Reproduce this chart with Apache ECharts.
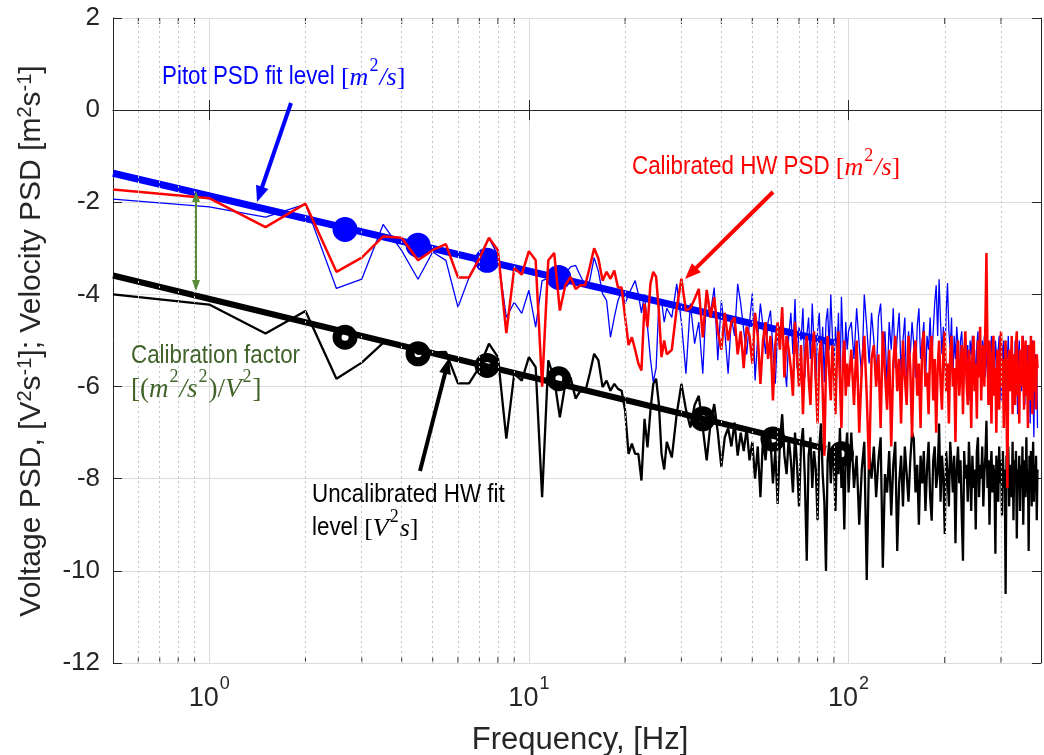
<!DOCTYPE html>
<html><head><meta charset="utf-8">
<script src="https://cdn.jsdelivr.net/npm/echarts@6/dist/echarts.min.js"></script>
<style>html,body{margin:0;padding:0;background:#fff}#c{width:1044px;height:755px}</style>
</head><body><div id="c"></div><script>
// ---------------- DATA ----------------
const freqLo = [0.5,1,1.5,2,2.5,3,3.5,4,4.5,5,5.5,6,6.5,7,7.5,8,8.5,9,9.5,10,10.5,11,11.5,12,12.5,13,13.5,14,14.5,15,15.5,16,16.5,17,17.5,18,18.5,19,19.5,20,20.5,21,21.5,22,22.5,23,23.5,24,24.5,25,25.5,26,26.5];
const freqMid = [27,28,29,30,31,32,33,34,35,36,37,38,39,40,41,42,43,44,45,46,47,48,49,50,51,52,53,54,55,56,57,58,59,60,61,62,63,64,65,66,67,68,69,70,71,72,73,74,75,76,77,78,79,80,81,82,83,84,85,86,87,88,89,90,91,92,93,94,95,96,97,98,99,100];
const freqHi = [102,104,106,108,110,112,114,116,118,120,122,124,126,128,130,132,134,136,138,140,142,144,146,148,150,152,154,156,158,160,162,164,166,168,170,172,174,176,178,180,182,184,186,188,190,192,194,196,198,200,202,204,206,208,210,212,214,216,218,220,222,224,226,228,230,232,234,236,238,240,242,244,246,248,250,252,254,256,258,260,262,264,266,268,270,272,274,276,278,280,282,284,286,288,290,292,294,296,298,300,302,304,306,308,310,312,314,316,318,320,322,324,326,328,330,332,334,336,338,340,342,344,346,348,350,352,354,356,358,360,362,364,366,368,370,372,374,376,378,380,382,384,386,388,390];

// Calibrated HW PSD (red), log10 values
const redLo = [-1.72,-1.91,-2.54,-2.03,-3.51,-3.2,-2.74,-2.77,-3.26,-3.04,-2.91,-3.63,-3.63,-3.22,-2.77,-3.04,-4.84,-3.43,-3.57,-3.06,-3.26,-6.0,-3.26,-3.1,-4.35,-3.8,-3.62,-3.88,-3.8,-3.8,-3.41,-3.0,-3.22,-3.7,-3.51,-3.66,-3.48,-3.85,-3.85,-4.49,-5.1,-4.93,-5.2,-5.5,-5.65,-4.2,-4.71,-3.77,-3.51,-3.62,-4.35,-5.36,-5.0];
const redMid = [-5.3,-5.2,-4.3,-3.66,-4.35,-4.3,-4.1,-3.88,-4.93,-3.9,-4.5,-4.06,-4.8,-5.2,-4.4,-5.0,-4.6,-4.5,-5.3,-4.8,-5.6,-4.7,-4.9,-5.5,-4.4,-4.9,-5.94,-5.0,-4.6,-5.4,-4.9,-6.3,-5.1,-4.6,-5.2,-4.28,-5.8,-4.9,-5.2,-5.6,-6.2,-4.6,-5.3,-6.0,-5.1,-6.6,-5.4,-4.9,-5.8,-6.4,-5.2,-4.8,-5.9,-6.8,-5.3,-5.0,-6.1,-7.5,-5.6,-4.9,-5.7,-6.3,-5.1,-5.6,-6.6,-5.3,-4.8,-5.9,-6.9,-5.4,-5.0,-6.2,-5.5,-6.0];
const redHi = [-5.2,-6.4,-5.0,-7.0,-5.6,-4.9,-6.2,-7.8,-5.4,-5.1,
  -6.0,-5.3,-6.9,-4.8,-5.7,-6.5,-5.2,-7.3,-5.5,-4.9,
  -6.1,-5.4,-6.8,-5.0,-5.8,-6.4,-4.9,-5.6,-7.1,-5.3,
  -5.0,-6.2,-5.5,-6.9,-5.1,-4.8,-6.0,-5.7,-6.6,-5.2,
  -4.9,-6.3,-5.4,-7.0,-5.6,-5.0,-5.9,-6.5,-5.2,-4.8,
  -6.1,-5.5,-6.8,-5.3,-4.9,-6.0,-5.6,-7.2,-5.4,-5.0,
  -6.2,-5.7,-5.1,-6.6,-5.3,-4.8,-5.9,-6.4,-5.2,-5.6,
  -6.9,-5.3,-4.9,-6.1,-5.5,-6.7,-5.0,-5.8,-4.7,-6.3,
  -5.4,-5.1,-6.0,-4.6,-3.1,-5.2,-6.4,-5.0,-5.7,-6.8,
  -5.3,-4.9,-6.2,-5.6,-7.0,-5.2,-5.5,-6.5,-5.1,-4.8,
  -6.0,-5.4,-6.9,-5.7,-5.0,-6.3,-8.2,-5.5,-5.2,-6.1,
  -5.6,-4.9,-6.6,-5.3,-5.9,-6.4,-5.1,-4.8,-6.2,-5.5,
  -6.8,-5.2,-5.7,-6.0,-4.9,-5.4,-6.5,-5.3,-5.0,-6.2,
  -5.6,-6.9,-5.1,-5.5,-6.3,-4.9,-5.8,-6.6,-5.2,-5.0,
  -6.1,-5.4,-6.5,-5.3,-5.6];

// Pitot PSD (thin blue)
const blueLo = [-1.93,-2.1,-2.32,-2.04,-3.87,-3.67,-2.48,-3.05,-3.67,-3.08,-3.26,-4.28,-3.63,-3.19,-2.78,-3.15,-4.5,-4.17,-4.41,-3.91,-4.71,-3.7,-3.65,-3.7,-3.6,-3.55,-3.4,-3.37,-3.6,-3.8,-3.7,-3.2,-3.5,-3.99,-4.13,-4.93,-4.5,-4.13,-3.93,-4.2,-4.0,-3.85,-3.7,-4.0,-4.4,-4.0,-4.7,-5.4,-5.9,-5.6,-4.2,-4.13,-4.6];
const blueMid = [-4.3,-4.5,-3.77,-4.6,-5.72,-4.2,-5.07,-4.6,-5.72,-3.91,-4.4,-3.85,-5.43,-4.13,-4.8,-5.72,-4.5,-4.9,-3.77,-4.2,-4.78,-5.3,-4.6,-3.98,-5.87,-4.9,-4.2,-4.7,-5.29,-4.6,-4.35,-5.2,-5.94,-4.8,-5.1,-4.28,-5.5,-6.01,-4.9,-4.4,-5.3,-4.1,-5.6,-4.7,-5.0,-4.3,-5.8,-4.9,-4.5,-5.4,-4.2,-5.1,-6.0,-4.8,-4.4,-5.5,-4.7,-5.9,-4.6,-4.3,-5.2,-4.0,-4.9,-5.6,-4.7,-5.3,-4.4,-6.1,-4.05,-5.0,-5.7,-4.6,-5.2,-4.8];
const blueHi = [-4.6,-5.4,-4.3,-5.1,-5.8,-4.0,-4.7,-5.5,-4.4,-5.0,
  -5.9,-4.5,-4.2,-5.3,-4.8,-6.0,-4.6,-5.2,-4.3,-5.6,
  -4.9,-4.4,-5.7,-5.0,-4.5,-6.2,-4.8,-5.3,-4.6,-5.1,
  -5.8,-4.7,-4.3,-5.4,-5.0,-4.6,-6.0,-4.9,-5.2,-4.5,
  -5.5,-4.8,-4.2,-3.8,-4.9,-3.67,-4.6,-5.3,-4.7,-5.6,
  -4.4,-3.75,-4.8,-5.2,-4.5,-5.9,-4.9,-5.4,-4.7,-5.1,
  -6.1,-5.0,-4.8,-5.5,-5.2,-4.9,-5.8,-5.1,-6.3,-5.0,
  -5.3,-4.9,-5.7,-5.2,-6.0,-5.1,-4.8,-5.5,-5.3,-6.2,
  -5.0,-5.4,-4.9,-5.8,-5.2,-5.6,-6.4,-5.1,-5.3,-4.9,
  -5.7,-5.4,-6.1,-5.0,-5.3,-5.9,-5.2,-4.9,-5.6,-6.3,
  -5.1,-5.5,-5.0,-5.8,-6.5,-5.2,-5.4,-4.9,-5.7,-6.0,
  -5.3,-5.1,-5.9,-5.4,-6.2,-5.0,-5.6,-5.2,-6.6,-5.3,
  -5.0,-5.8,-5.5,-6.1,-5.2,-4.9,-5.7,-6.4,-5.3,-5.6,
  -5.1,-6.0,-5.4,-5.8,-6.8,-5.2,-5.5,-5.0,-6.2,-7.1,
  -5.6,-5.3,-6.4,-5.5,-6.9];

// Uncalibrated HW PSD (black)
const blackLo = [-4.0,-4.22,-4.85,-4.36,-5.83,-5.48,-5.05,-5.1,-5.29,-5.26,-5.25,-5.93,-5.93,-5.58,-5.07,-5.36,-7.13,-5.72,-5.87,-5.36,-5.58,-8.4,-5.43,-5.83,-6.67,-5.94,-5.8,-6.26,-6.09,-6.12,-5.72,-5.29,-5.43,-6.01,-5.87,-6.09,-5.94,-6.05,-6.09,-6.52,-7.46,-7.24,-7.46,-7.46,-8.04,-6.7,-7.32,-6.52,-5.94,-5.83,-6.37,-7.46,-7.8];
const blackMid = [-7.2,-7.54,-6.6,-5.94,-6.5,-6.89,-6.4,-6.2,-6.9,-7.6,-6.8,-6.38,-7.0,-7.75,-7.1,-6.9,-7.3,-6.78,-7.5,-7.0,-7.4,-6.9,-7.6,-7.2,-8.0,-7.3,-8.4,-7.1,-7.6,-6.9,-7.17,-8.1,-7.4,-8.55,-7.2,-6.6,-7.5,-7.9,-7.1,-7.6,-8.3,-7.0,-7.7,-8.6,-7.3,-6.9,-8.0,-9.78,-7.5,-7.1,-8.2,-7.4,-7.8,-8.9,-7.3,-6.8,-7.9,-8.5,-10.0,-7.6,-7.2,-8.1,-7.5,-7.6,-8.7,-7.3,-7.9,-6.9,-8.2,-7.7,-9.1,-7.4,-7.0,-8.3];
const blackHi = [-7.0,-8.2,-7.5,-9.0,-7.8,-7.2,-10.2,-7.4,-8.0,-7.3,
  -8.4,-7.6,-7.1,-9.93,-7.9,-8.3,-7.4,-8.8,-7.7,-7.2,
  -9.57,-8.1,-7.5,-8.6,-7.3,-7.9,-8.5,-7.6,-7.0,-7.13,
  -8.3,-7.7,-9.0,-7.5,-8.1,-7.4,-8.7,-7.8,-7.2,-8.4,
  -8.91,-7.6,-7.3,-8.2,-7.9,-6.8,-8.5,-7.5,-8.0,-9.2,
  -7.4,-7.9,-8.6,-7.2,-7.7,-8.3,-7.5,-9.4,-7.8,-7.3,
  -8.1,-7.6,-8.8,-9.78,-7.4,-8.0,-7.7,-8.5,-7.2,-7.9,
  -8.7,-7.5,-8.2,-7.8,-9.1,-7.4,-7.1,-8.4,-7.7,-8.0,
  -7.3,-8.6,-7.9,-7.5,-6.74,-8.2,-7.6,-9.0,-7.8,-7.4,
  -8.3,-7.7,-8.0,-9.63,-7.5,-7.9,-8.5,-7.3,-8.1,-7.6,
  -8.8,-7.4,-8.2,-7.8,-10.5,-7.5,-8.0,-7.3,-8.6,-7.7,
  -7.9,-8.4,-7.2,-8.9,-7.6,-8.1,-7.4,-9.3,-7.8,-8.0,
  -7.5,-8.7,-7.7,-8.2,-7.3,-9.0,-7.9,-7.6,-8.4,-7.1,
  -8.3,-7.8,-9.57,-7.5,-8.1,-7.4,-8.6,-7.9,-7.2,-8.5,
  -7.7,-8.2,-7.5,-8.9,-7.8];

// Fit levels (-5/3 lines) and marker points
const pitotFitF = [0.5, 90];
const pitotFitV = [-1.37, -5.05];
const hwFitF = [0.5, 85];
const hwFitV = [-3.59, -7.35];
const pitotMarkF = [2.66, 4.5, 7.4, 12.4];
const pitotMarkV = [-2.59, -2.93, -3.26, -3.63];
const hwMarkF = [2.66, 4.5, 7.4, 12.4, 35, 58, 95];
const hwMarkV = [-4.93, -5.29, -5.54, -5.83, -6.7, -7.14, -7.46];

// axis ticks
const yTicks = [-12, -10, -8, -6, -4, -2, 0, 2];
const minorF = [0.6,0.7,0.8,0.9,2,3,4,5,6,7,8,9,20,30,40,50,60,70,80,90,200,300];

// ---------------- BUILD ----------------
const freq = freqLo.concat(freqMid, freqHi);
const pair = (xs, ys) => xs.map((x, i) => [x, ys[i]]);
const red = pair(freq, redLo.concat(redMid, redHi));
const blue = pair(freq, blueLo.concat(blueMid, blueHi));
const black = pair(freq, blackLo.concat(blackMid, blackHi));

const AX = '#262626';
const SANS = 'Liberation Sans, Arial, sans-serif';
const SERIF = 'Liberation Serif, Times New Roman, serif';
const NARROW_SCALE = 0.86;
const ANN_SIZE = 26;

const mctx = document.createElement('canvas').getContext('2d');
function textW(str, size) { mctx.font = size + 'px "Liberation Sans", Arial, sans-serif'; return mctx.measureText(str).width; }

function arrow(x1, y1, x2, y2, color, w, hl, hw) {
  const dx = x2 - x1, dy = y2 - y1, L = Math.hypot(dx, dy), ux = dx / L, uy = dy / L;
  const bx = x2 - ux * hl, by = y2 - uy * hl, px = -uy, py = ux;
  return [
    {type: 'line', z: 100, shape: {x1: x1, y1: y1, x2: bx + ux * 2, y2: by + uy * 2}, style: {stroke: color, lineWidth: w}},
    {type: 'polygon', z: 100, shape: {points: [[x2, y2], [bx + px * hw / 2, by + py * hw / 2], [bx - px * hw / 2, by - py * hw / 2]]}, style: {fill: color}}
  ];
}

// superscript trick: base tokens get top padding, superscript aligns to line top
function mathRich(color, size) {
  const up = Math.round(size * 0.3);
  return {
    m: {fontFamily: SERIF, fontSize: size, fill: color, verticalAlign: 'bottom', padding: [up, 0, 0, 0]},
    i: {fontFamily: SERIF, fontStyle: 'italic', fontSize: size, fill: color, verticalAlign: 'bottom', padding: [up, 0, 0, 0]},
    p: {fontFamily: SERIF, fontSize: Math.round(size * 0.68), fill: color, verticalAlign: 'top', padding: [0, 1, 0, 1]}
  };
}
// narrow sans label, optionally followed by a serif math part
function annot(x, y, sans, math, color, mathSize) {
  const out = [{type: 'text', z: 100, x: x, y: y, scaleX: NARROW_SCALE,
    style: {text: sans, fontFamily: SANS, fontSize: ANN_SIZE, fill: color,
      align: 'left', verticalAlign: 'middle', textAlign: 'left', textVerticalAlign: 'middle'}}];
  if (math) {
    const ms = mathSize || 26;
    const mx = x + (sans ? textW(sans, ANN_SIZE) * NARROW_SCALE : 0);
    out.push({type: 'text', z: 100, x: mx, y: y + 1 - Math.round(ms * 0.15),
      style: {text: math, rich: mathRich(color, ms),
        align: 'left', verticalAlign: 'middle', textAlign: 'left', textVerticalAlign: 'middle'}});
  }
  return out;
}

const GREEN_T = '#41632a';
const graphics = [].concat(
  arrow(291, 103, 257, 202, '#0000ff', 4, 16, 13),
  arrow(773, 192, 685, 279, '#ff0000', 4, 16, 13),
  arrow(420, 471, 449, 358, '#000000', 4, 16, 12),
  arrow(196, 240, 196, 191, '#5b8c3a', 2, 11, 8),
  arrow(196, 240, 196, 291, '#5b8c3a', 2, 11, 8),
  annot(162, 77, 'Pitot PSD fit level ', '{m|[}{i|m}{p|2}{i|/s}{m|]}', '#0000ff'),
  annot(632, 167, 'Calibrated HW PSD ', '{m|[}{i|m}{p|2}{i|/s}{m|]}', '#ff0000'),
  annot(131, 356, 'Calibration factor', null, GREEN_T),
  annot(131, 389, '', '{m|[(}{i|m}{p|2}{i|/s}{p|2}{m|)/}{i|V}{p|2}{m|]}', GREEN_T, 27),
  annot(312, 495, 'Uncalibrated HW fit', null, '#000000'),
  annot(312, 528, 'level ', '{m|[}{i|V}{p|2}{i|s}{m|]}', '#000000'),
  [
    {type: 'text', z: 100, x: 32, y: 341, rotation: Math.PI / 2,
      style: {text: '{n|Voltage PSD, [V}{s|2}{n|s}{s|-1}{n|]; Velocity PSD [m}{s|2}{n|s}{s|-1}{n|]}',
        align: 'center', verticalAlign: 'middle', textAlign: 'center', textVerticalAlign: 'middle',
        rich: {n: {fontFamily: SANS, fontSize: 30, fill: AX, lineHeight: 34},
               s: {fontFamily: SANS, fontSize: 20, fill: AX, verticalAlign: 'top'}}}},
    {type: 'text', z: 100, x: 580, y: 740,
      style: {text: 'Frequency, [Hz]', fontFamily: SANS, fontSize: 31, fill: AX,
        align: 'center', verticalAlign: 'middle', textAlign: 'center', textVerticalAlign: 'middle'}}
  ]
);

const logLabel = v => {
  const e = Math.round(Math.log10(v));
  if (Math.abs(v - Math.pow(10, e)) < 1e-6 * v) return '{b|10}{s|' + e + '}';
  return '';
};

const option = {
  animation: false,
  backgroundColor: '#ffffff',
  grid: {left: 113, right: -4, top: 18, bottom: 92, containLabel: false},
  xAxis: [
    {type: 'log', logBase: 10, min: 0.5, max: 400, position: 'bottom',
      axisLine: {show: true, lineStyle: {color: AX, width: 1}},
      axisTick: {show: true, inside: true, length: 10, lineStyle: {color: AX}},
      axisLabel: {margin: 12, formatter: logLabel,
        rich: {b: {fontFamily: SANS, fontSize: 27, color: AX, verticalAlign: 'bottom', padding: [10, 0, 0, 0]},
               s: {fontFamily: SANS, fontSize: 18, color: AX, verticalAlign: 'top', padding: [0, 0, 0, 1]}}},
      splitLine: {show: true, lineStyle: {color: '#dcdcdc', width: 1}}},
    {type: 'log', logBase: 10, min: 0.5, max: 400, position: 'top',
      axisLine: {show: true, lineStyle: {color: AX, width: 1}},
      axisTick: {show: true, inside: true, length: 10, lineStyle: {color: AX}},
      axisLabel: {show: false}, splitLine: {show: false}}
  ],
  yAxis: [
    {type: 'value', min: yTicks[0], max: yTicks[yTicks.length - 1], interval: 2,
      axisLine: {show: true, lineStyle: {color: AX, width: 1}},
      axisTick: {show: true, inside: true, length: 9, lineStyle: {color: AX}},
      axisLabel: {margin: 13, fontFamily: SANS, fontSize: 26, color: AX},
      splitLine: {show: true, lineStyle: {color: '#dcdcdc', width: 1}}},
    {type: 'value', position: 'right', min: yTicks[0], max: yTicks[yTicks.length - 1], interval: 2,
      axisLine: {show: true, lineStyle: {color: AX, width: 1}},
      axisTick: {show: true, inside: true, length: 9, lineStyle: {color: AX}},
      axisLabel: {show: false}, splitLine: {show: false}}
  ],
  graphic: graphics,
  series: [
    {type: 'line', name: 'minorgrid', data: [], silent: true,
      markLine: {silent: true, symbol: ['none', 'none'], label: {show: false}, animation: false,
        lineStyle: {type: [2, 3], color: '#c4c4c4', width: 1},
        emphasis: {disabled: true},
        data: minorF.map(f => ({xAxis: f}))}},
    {type: 'scatter', name: 'minorTickB', silent: true, clip: false, symbol: 'rect', symbolSize: [1, 6], symbolOffset: [0, -3],
      itemStyle: {color: AX, opacity: 1}, data: minorF.map(f => [f, yTicks[0]])},
    {type: 'scatter', name: 'minorTickT', silent: true, clip: false, symbol: 'rect', symbolSize: [1, 6], symbolOffset: [0, 3],
      itemStyle: {color: AX, opacity: 1}, data: minorF.map(f => [f, yTicks[yTicks.length - 1]])},
    {type: 'line', name: 'Uncalibrated HW PSD', data: black, showSymbol: false, silent: true,
      lineStyle: {color: '#000000', width: 2.3}},
    {type: 'line', name: 'Uncalibrated HW fit', data: pair(hwFitF, hwFitV), showSymbol: false, silent: true,
      lineStyle: {color: '#000000', width: 6}},
    {type: 'scatter', name: 'HW markers', data: pair(hwMarkF, hwMarkV), symbol: 'circle', symbolSize: 16, silent: true,
      itemStyle: {color: '#ffffff', borderColor: '#000000', borderWidth: 9, opacity: 1}},
    {type: 'line', name: 'Pitot PSD', data: blue, showSymbol: false, silent: true,
      lineStyle: {color: '#0000ff', width: 1.3}},
    {type: 'line', name: 'Pitot fit', data: pair(pitotFitF, pitotFitV), showSymbol: false, silent: true,
      lineStyle: {color: '#0000ff', width: 7}},
    {type: 'scatter', name: 'Pitot markers', data: pair(pitotMarkF, pitotMarkV), symbol: 'circle', symbolSize: 17, silent: true,
      itemStyle: {color: '#0000ff', borderColor: '#0000ff', borderWidth: 8, opacity: 1}},
    {type: 'line', name: 'Calibrated HW PSD', data: red, showSymbol: false, silent: true,
      lineStyle: {color: '#ff0000', width: 2.5}}
  ]
};

const chart = echarts.init(document.getElementById('c'), null, {renderer: 'canvas'});
chart.setOption(option);
</script></body></html>
